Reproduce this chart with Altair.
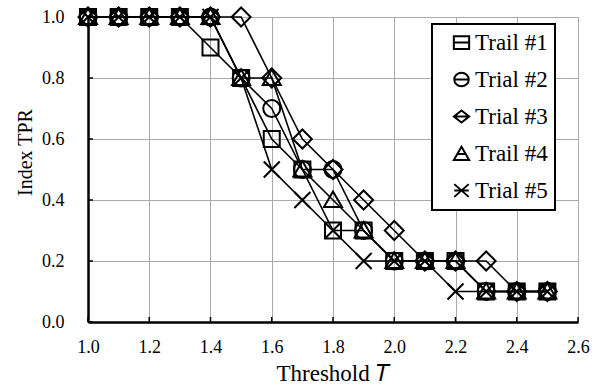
import altair as alt
import pandas as pd

# ---- data ----
thresholds = [1.0, 1.1, 1.2, 1.3, 1.4, 1.5, 1.6, 1.7, 1.8, 1.9, 2.0, 2.1, 2.2, 2.3, 2.4, 2.5]
series_names = ["Trail #1", "Trial #2", "Trial #3", "Trail #4", "Trial #5"]
trail1 = [1.0, 1.0, 1.0, 1.0, 0.9, 0.8, 0.6, 0.5, 0.3, 0.3, 0.2, 0.2, 0.2, 0.1, 0.1, 0.1]
trial2 = [1.0, 1.0, 1.0, 1.0, 1.0, 0.8, 0.7, 0.5, 0.5, 0.3, 0.2, 0.2, 0.2, 0.1, 0.1, 0.1]
trial3 = [1.0, 1.0, 1.0, 1.0, 1.0, 1.0, 0.8, 0.6, 0.5, 0.4, 0.3, 0.2, 0.2, 0.2, 0.1, 0.1]
trail4 = [1.0, 1.0, 1.0, 1.0, 1.0, 0.8, 0.8, 0.5, 0.4, 0.3, 0.2, 0.2, 0.2, 0.1, 0.1, 0.1]
trial5 = [1.0, 1.0, 1.0, 1.0, 1.0, 0.8, 0.5, 0.4, 0.3, 0.2, 0.2, 0.2, 0.1, 0.1, 0.1, 0.1]
x_ticks = [1.0, 1.2, 1.4, 1.6, 1.8, 2.0, 2.2, 2.4, 2.6]
y_ticks = [0.0, 0.2, 0.4, 0.6, 0.8, 1.0]

rows = []
for name, vals in zip(series_names, [trail1, trial2, trial3, trail4, trial5]):
    for t, v in zip(thresholds, vals):
        rows.append({"T": t, "TPR": v, "series": name})
df = pd.DataFrame(rows)

# marker shapes (plot) and legend shapes (marker with line through)
mark_paths = [
    "M-0.8,-0.8H0.8V0.8H-0.8Z",
    "M-0.85,0A0.85,0.85 0 1,0 0.85,0A0.85,0.85 0 1,0 -0.85,0Z",
    "M-0.95,0L0,-0.95L0.95,0L0,0.95Z",
    "M0,-0.85L0.9,0.7L-0.9,0.7Z",
    "M-0.8,-0.8L0.8,0.8M-0.8,0.8L0.8,-0.8",
]
legend_paths = [
    "M-0.9,-0.75H0.9V0.75H-0.9Z M-0.9,0H0.9",
    "M-0.85,0A0.85,0.8 0 1,0 0.85,0A0.85,0.8 0 1,0 -0.85,0Z M-0.85,0H0.85",
    "M-0.9,0L0,-0.7L0.9,0L0,0.7Z M-0.9,0H0.9",
    "M0,-0.8L0.9,0.75L-0.9,0.75Z M-0.55,0.05H0.55",
    "M-0.85,-0.75L0.85,0.75M-0.85,0.75L0.85,-0.75M-0.85,0H0.85",
]

W, H = 490, 305
FONT = "Liberation Serif"

x_enc = alt.X(
    "T:Q",
    scale=alt.Scale(domain=[1.0, 2.6], nice=False, zero=False),
    axis=alt.Axis(
        values=x_ticks, format=".1f", title="Threshold \U0001D447",
        grid=True, gridColor="#aaaaaa", gridWidth=1,
        domainColor="black", domainWidth=2.5, tickSize=0,
        labelFont=FONT, labelFontSize=18, labelColor="black", labelPadding=16,
        titleFont=FONT, titleFontSize=23, titleFontWeight="normal", titleColor="black",
        titleBaseline="alphabetic", titleY=58, labelFlush=False,
    ),
)
y_enc = alt.Y(
    "TPR:Q",
    scale=alt.Scale(domain=[0.0, 1.0], nice=False),
    axis=alt.Axis(
        values=y_ticks, format=".1f", title="Index TPR",
        grid=True, gridColor="#aaaaaa", gridWidth=1,
        domainColor="black", domainWidth=2.5, tickSize=0,
        labelFont=FONT, labelFontSize=18, labelColor="black", labelPadding=24,
        titleFont=FONT, titleFontSize=20, titleFontWeight="normal", titleColor="black",
        titleAngle=270, titleX=-63, titleY=135, titleAlign="center", titleBaseline="middle",
        labelFlush=False,
    ),
)

base = alt.Chart(df)

lines = base.mark_line(color="black", strokeWidth=1.6).encode(
    x=x_enc, y=y_enc, detail="series:N"
)

points = base.mark_point(filled=False, color="black", strokeWidth=2, size=400, opacity=1).encode(
    x="T:Q", y="TPR:Q",
    shape=alt.Shape("series:N", scale=alt.Scale(domain=series_names, range=mark_paths), legend=None),
)

legend_layer = base.mark_point(filled=False, color="black", strokeWidth=2, opacity=1).encode(
    x="T:Q", y="TPR:Q",
    shape=alt.Shape(
        "series:N",
        scale=alt.Scale(domain=series_names, range=legend_paths),
        legend=alt.Legend(
            title=None, orient="none", legendX=344, legendY=7,
            padding=7, symbolOffset=11, labelOffset=2, rowPadding=13,
            symbolSize=289, symbolStrokeWidth=2, symbolStrokeColor="black",
            labelFont=FONT, labelFontSize=23, labelColor="black",
            fillColor="white", strokeColor="black",
        ),
    ),
).transform_filter("false")

xt_df = pd.DataFrame({"xt": x_ticks})
yt_df = pd.DataFrame({"yt": y_ticks})
x_tick_marks = alt.Chart(xt_df).mark_rule(color="black", strokeWidth=1.5).encode(
    x="xt:Q", y=alt.value(H), y2=alt.value(H - 5)
)
y_tick_marks = alt.Chart(yt_df).mark_rule(color="black", strokeWidth=1.5).encode(
    y="yt:Q", x=alt.value(0), x2=alt.value(5)
)

chart = (
    alt.layer(lines, x_tick_marks, y_tick_marks, points, legend_layer)
    .resolve_scale(shape="independent")
    .properties(
        width=W, height=H,
        autosize=alt.AutoSizeParams(type="none"),
        padding={"left": 88, "top": 17, "right": 21, "bottom": 63},
        background="white",
    )
    .configure_view(stroke=None)
    .configure_legend(strokeWidth=2)
)

chart.save("out.html", embed_options={"renderer": "svg", "actions": False})
